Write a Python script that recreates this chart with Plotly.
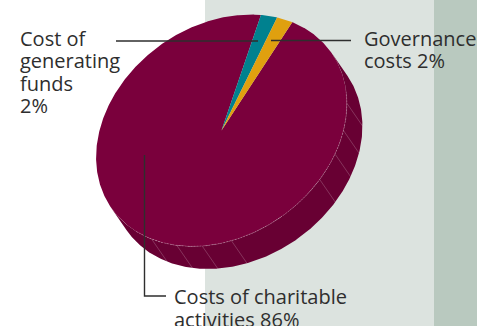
import numpy as np
import plotly.graph_objects as go

# Budget split
categories = ["Costs of charitable activities", "Cost of generating funds", "Governance costs"]
values = [86, 2, 2]
slice_colors = ["#7a003c", "#00818f", "#e0a00f"]

# Disc geometry in page pixels (y grows downward)
CENTER = (221.5, 130.5)
SEMI_MAJOR, SEMI_MINOR = 134.7, 105.0
TILT = np.radians(35.6)
EXTRUDE = (15.5, 22.5)
START_ANGLE = 42.5

WALL_COLOR = "#680033"
TEXT_COLOR = "#2e2e2e"
LEADER_COLOR = "#2e2e2e"
wall_ticks = [-29, -42.6, -54.3, -67.6, -114.6, -128, -140, -153]

# Text lines: (x, vertical middle, string)
label_lines = [
    (21, 38, "Cost of"),
    (21, 60.5, "generating"),
    (21, 83, "funds"),
    (21, 105.5, "2%"),
    (364.5, 38, "Governance"),
    (364.5, 60, "costs 2%"),
    (174.5, 296.5, "Costs of charitable"),
    (174.5, 319.5, "activities 86%"),
]
leaders = [
    ([116, 258], [41, 41]),
    ([271, 351], [40.5, 40.5]),
    ([144.5, 144.5, 166], [155, 296, 296]),
]


def rim(t_deg, offset=(0.0, 0.0)):
    """Point on the tilted ellipse for an eccentric angle in degrees."""
    t = np.radians(np.asarray(t_deg, dtype=float))
    u, v = SEMI_MAJOR * np.cos(t), SEMI_MINOR * np.sin(t)
    x = u * np.cos(TILT) - v * np.sin(TILT)
    y = u * np.sin(TILT) + v * np.cos(TILT)
    return CENTER[0] + x + offset[0], CENTER[1] - y + offset[1]


fig = go.Figure()

# Wall: swept band between the two silhouette tangents of the disc
ts = np.linspace(-180, 0, 721)
xs, ys = rim(ts)
cross = np.gradient(xs) * EXTRUDE[1] - np.gradient(ys) * EXTRUDE[0]
flips = np.where(np.sign(cross[:-1]) != np.sign(cross[1:]))[0]
t_right = ts[flips[-1]]
t_left = t_right - 180
arc = np.linspace(t_left, t_right, 300)
ax, ay = rim(arc)
bx, by = rim(arc, EXTRUDE)
fig.add_trace(go.Scatter(
    x=np.r_[ax, bx[::-1]], y=np.r_[ay, by[::-1]], mode="lines", fill="toself",
    fillcolor=WALL_COLOR, line=dict(width=0), hoverinfo="skip",
))

# Faint divisions running down the wall
for t in wall_ticks:
    x0, y0 = rim(t)
    x1, y1 = rim(t, EXTRUDE)
    fig.add_trace(go.Scatter(
        x=[x0, x1], y=[y0, y1], mode="lines",
        line=dict(color="rgba(255,255,255,0.25)", width=0.8), hoverinfo="skip",
    ))

# Top face: each slice spans an eccentric angle proportional to its value,
# which keeps slice areas proportional under the tilt.
total = sum(values)
sweeps = [v / total * 360 for v in values]
angles = {
    1: (START_ANGLE, START_ANGLE - sweeps[1]),
    2: (START_ANGLE - sweeps[1], START_ANGLE - sweeps[1] - sweeps[2]),
    0: (START_ANGLE - sweeps[1] - sweeps[2], START_ANGLE - 360),
}
for i in (0, 1, 2):
    a0, a1 = angles[i]
    n = max(int(abs(a0 - a1) * 2), 8)
    px, py = rim(np.linspace(a0, a1, n))
    fig.add_trace(go.Scatter(
        x=np.r_[CENTER[0], px, CENTER[0]], y=np.r_[CENTER[1], py, CENTER[1]],
        mode="lines", fill="toself", fillcolor=slice_colors[i],
        line=dict(width=0), name=categories[i], hoverinfo="name",
    ))

# Pale highlight where the top face meets the wall
hx, hy = rim(np.linspace(-162, -22, 200))
fig.add_trace(go.Scatter(
    x=hx, y=hy, mode="lines",
    line=dict(color="rgba(255,255,255,0.32)", width=0.8, dash="2px,1px"), hoverinfo="skip",
))

# Leader lines
for lx, ly in leaders:
    fig.add_trace(go.Scatter(
        x=lx, y=ly, mode="lines", line=dict(color=LEADER_COLOR, width=1.4), hoverinfo="skip",
    ))

annotations = [
    dict(x=x, y=y, text=s, xref="x", yref="y", xanchor="left", yanchor="middle",
         showarrow=False, xshift=-2, font=dict(family="Open Sans", size=20, color=TEXT_COLOR),
         borderpad=0)
    for x, y, s in label_lines
]

fig.update_layout(
    width=477, height=326, margin=dict(l=0, r=0, t=0, b=0),
    paper_bgcolor="white", plot_bgcolor="white", showlegend=False,
    xaxis=dict(range=[0, 477], visible=False, fixedrange=True),
    yaxis=dict(range=[326, 0], visible=False, fixedrange=True),
    annotations=annotations,
    shapes=[
        dict(type="rect", xref="x", yref="y", x0=205, x1=434, y0=0, y1=326,
             fillcolor="#dce3df", line_width=0, layer="below"),
        dict(type="rect", xref="x", yref="y", x0=434, x1=477, y0=0, y1=326,
             fillcolor="#b9c9bf", line_width=0, layer="below"),
    ],
)

fig.write_html("out.html", config=dict(displayModeBar=False))
